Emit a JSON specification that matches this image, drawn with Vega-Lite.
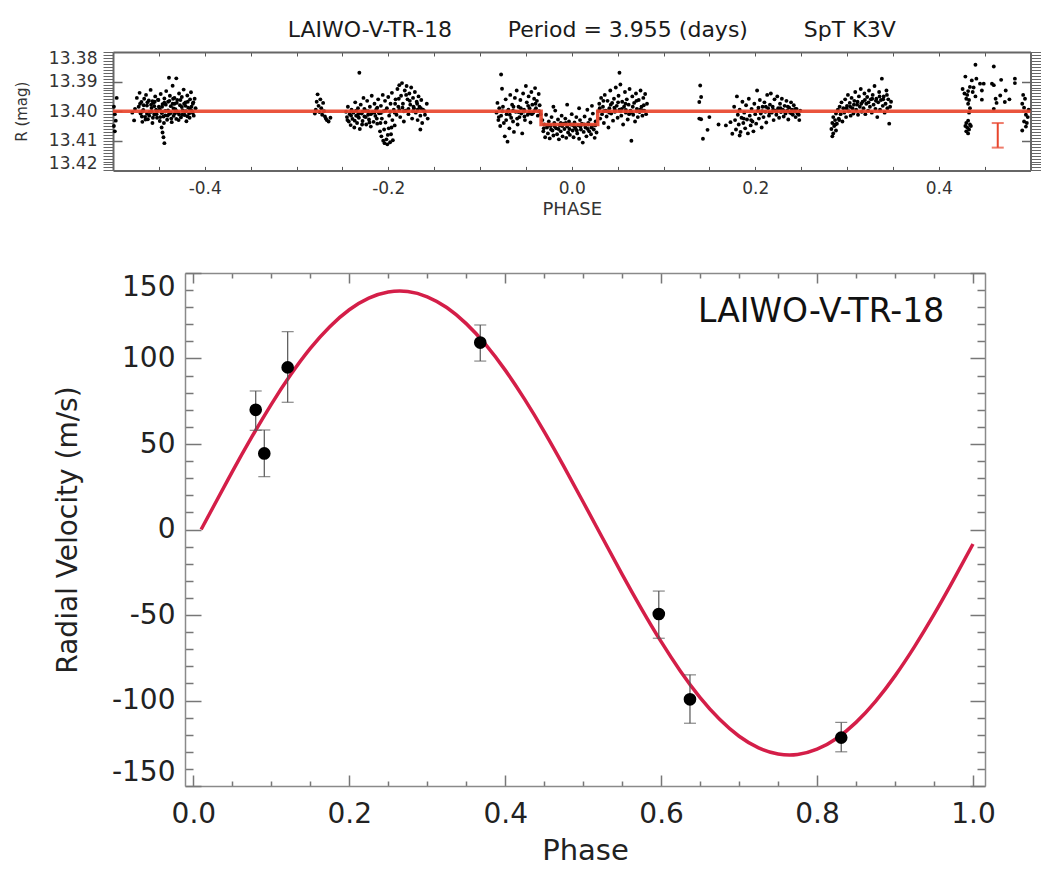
{
"$schema": "https://vega.github.io/schema/vega-lite/v6.json",
"background": "white",
"padding": {"left": 14, "top": 18, "right": 5, "bottom": 5},
"config": {"view": {"stroke": null}, "font": "DejaVu Sans", "axis": {"grid": false}},
"datasets": {
"lc": [
{"p":-0.499,"m":13.3985},{"p":-0.498,"m":13.4010},{"p":-0.497,"m":13.4032},{"p":-0.499,"m":13.4050},{"p":-0.496,"m":13.3955},{"p":-0.498,"m":13.4068},
{"p":-0.479,"m":13.4005},{"p":-0.477,"m":13.4031},{"p":-0.476,"m":13.3992},{"p":-0.474,"m":13.3955},{"p":-0.472,"m":13.3985},{"p":-0.471,"m":13.3938},{"p":-0.470,"m":13.4008},{"p":-0.469,"m":13.3969},{"p":-0.468,"m":13.4036},{"p":-0.467,"m":13.3996},{"p":-0.466,"m":13.3958},{"p":-0.465,"m":13.4019},{"p":-0.464,"m":13.3945},{"p":-0.463,"m":13.3981},{"p":-0.462,"m":13.4027},{"p":-0.461,"m":13.3964},{"p":-0.460,"m":13.4003},{"p":-0.459,"m":13.3928},{"p":-0.458,"m":13.3989},{"p":-0.457,"m":13.4040},{"p":-0.456,"m":13.3972},{"p":-0.455,"m":13.4011},{"p":-0.454,"m":13.3950},{"p":-0.453,"m":13.3995},{"p":-0.452,"m":13.4022},{"p":-0.451,"m":13.3961},{"p":-0.450,"m":13.3985},{"p":-0.449,"m":13.4033},{"p":-0.448,"m":13.3942},{"p":-0.447,"m":13.4006},{"p":-0.447,"m":13.4055},{"p":-0.446,"m":13.4072},{"p":-0.446,"m":13.3976},{"p":-0.445,"m":13.4088},{"p":-0.445,"m":13.4018},{"p":-0.444,"m":13.4108},{"p":-0.444,"m":13.3957},{"p":-0.443,"m":13.3999},{"p":-0.442,"m":13.3932},{"p":-0.441,"m":13.4029},{"p":-0.440,"m":13.3968},{"p":-0.439,"m":13.3887},{"p":-0.439,"m":13.4010},{"p":-0.438,"m":13.3948},{"p":-0.437,"m":13.3983},{"p":-0.436,"m":13.4037},{"p":-0.435,"m":13.3914},{"p":-0.435,"m":13.3975},{"p":-0.434,"m":13.4016},{"p":-0.433,"m":13.3955},{"p":-0.432,"m":13.3993},{"p":-0.431,"m":13.3889},{"p":-0.431,"m":13.4026},{"p":-0.430,"m":13.3962},{"p":-0.429,"m":13.4004},{"p":-0.428,"m":13.3940},{"p":-0.427,"m":13.3980},{"p":-0.426,"m":13.4021},{"p":-0.425,"m":13.3952},{"p":-0.424,"m":13.3997},{"p":-0.423,"m":13.3927},{"p":-0.422,"m":13.4013},{"p":-0.421,"m":13.3970},{"p":-0.420,"m":13.4034},{"p":-0.419,"m":13.3947},{"p":-0.418,"m":13.3988},{"p":-0.417,"m":13.4008},{"p":-0.416,"m":13.3960},{"p":-0.415,"m":13.3936},{"p":-0.414,"m":13.3999},{"p":-0.413,"m":13.3975},{"p":-0.412,"m":13.4015},{"p":-0.411,"m":13.3958},{"p":-0.410,"m":13.3990},
{"p":-0.468,"m":13.4001},{"p":-0.463,"m":13.4009},{"p":-0.458,"m":13.4002},{"p":-0.455,"m":13.3983},{"p":-0.452,"m":13.4000},{"p":-0.449,"m":13.3993},{"p":-0.446,"m":13.4003},{"p":-0.443,"m":13.4014},{"p":-0.440,"m":13.3997},{"p":-0.437,"m":13.4006},{"p":-0.434,"m":13.3991},{"p":-0.431,"m":13.4000},{"p":-0.428,"m":13.4011},{"p":-0.425,"m":13.3986},{"p":-0.422,"m":13.4002},{"p":-0.419,"m":13.4017},{"p":-0.416,"m":13.3994},{"p":-0.413,"m":13.4006},{"p":-0.457,"m":13.3966},{"p":-0.444,"m":13.3971},{"p":-0.433,"m":13.3975},{"p":-0.421,"m":13.3982},
{"p":-0.4705,"m":13.3975},{"p":-0.4685,"m":13.4018},{"p":-0.4665,"m":13.3980},{"p":-0.4645,"m":13.4028},{"p":-0.4625,"m":13.3970},{"p":-0.4605,"m":13.4015},{"p":-0.4585,"m":13.3978},{"p":-0.4565,"m":13.4022},{"p":-0.4545,"m":13.3968},{"p":-0.4525,"m":13.4010},{"p":-0.4505,"m":13.3962},{"p":-0.4485,"m":13.4020},{"p":-0.4465,"m":13.3985},{"p":-0.4445,"m":13.4040},{"p":-0.4425,"m":13.3978},{"p":-0.4405,"m":13.4015},{"p":-0.4385,"m":13.3965},{"p":-0.4365,"m":13.4025},{"p":-0.4345,"m":13.3958},{"p":-0.4325,"m":13.4008},{"p":-0.4305,"m":13.3972},{"p":-0.4285,"m":13.4030},{"p":-0.4265,"m":13.3962},{"p":-0.4245,"m":13.4012},{"p":-0.4225,"m":13.3975},{"p":-0.4205,"m":13.4000},{"p":-0.4185,"m":13.3968},{"p":-0.4165,"m":13.4022},{"p":-0.4145,"m":13.3985},{"p":-0.4125,"m":13.3970},
{"p":-0.280,"m":13.4008},{"p":-0.279,"m":13.3995},{"p":-0.278,"m":13.3968},{"p":-0.277,"m":13.3943},{"p":-0.276,"m":13.3982},{"p":-0.275,"m":13.4003},{"p":-0.274,"m":13.3960},{"p":-0.273,"m":13.3990},{"p":-0.272,"m":13.4012},{"p":-0.271,"m":13.3972},{"p":-0.270,"m":13.4000},{"p":-0.269,"m":13.4018},{"p":-0.268,"m":13.4025},{"p":-0.267,"m":13.4030},{"p":-0.265,"m":13.4035},{"p":-0.263,"m":13.4022},
{"p":-0.246,"m":13.4002},{"p":-0.245,"m":13.4020},{"p":-0.244,"m":13.3985},{"p":-0.243,"m":13.4035},{"p":-0.242,"m":13.4010},{"p":-0.241,"m":13.4047},{"p":-0.240,"m":13.3995},{"p":-0.239,"m":13.4026},{"p":-0.238,"m":13.4005},{"p":-0.237,"m":13.4055},{"p":-0.236,"m":13.3970},{"p":-0.235,"m":13.4015},{"p":-0.234,"m":13.4040},{"p":-0.233,"m":13.3990},{"p":-0.232,"m":13.4022},{"p":-0.2315,"m":13.3870},{"p":-0.231,"m":13.4060},{"p":-0.230,"m":13.3978},{"p":-0.229,"m":13.4008},{"p":-0.228,"m":13.4033},{"p":-0.227,"m":13.3955},{"p":-0.226,"m":13.4018},{"p":-0.225,"m":13.3998},{"p":-0.224,"m":13.4045},{"p":-0.223,"m":13.3965},{"p":-0.222,"m":13.4012},{"p":-0.221,"m":13.4028},{"p":-0.220,"m":13.3985},{"p":-0.219,"m":13.4052},{"p":-0.218,"m":13.3948},{"p":-0.217,"m":13.4003},{"p":-0.216,"m":13.4036},{"p":-0.215,"m":13.3975},{"p":-0.214,"m":13.4016},{"p":-0.213,"m":13.3993},{"p":-0.212,"m":13.4042},{"p":-0.211,"m":13.3960},{"p":-0.210,"m":13.4007},
{"p":-0.209,"m":13.4068},{"p":-0.208,"m":13.3982},{"p":-0.2075,"m":13.4085},{"p":-0.207,"m":13.4025},{"p":-0.206,"m":13.3945},{"p":-0.2055,"m":13.4100},{"p":-0.205,"m":13.4000},{"p":-0.204,"m":13.4108},{"p":-0.2035,"m":13.3965},{"p":-0.203,"m":13.4038},{"p":-0.202,"m":13.4095},{"p":-0.2015,"m":13.3990},{"p":-0.201,"m":13.4112},{"p":-0.200,"m":13.3952},{"p":-0.1995,"m":13.4058},{"p":-0.199,"m":13.4015},{"p":-0.198,"m":13.4105},{"p":-0.1975,"m":13.3975},{"p":-0.197,"m":13.4078},{"p":-0.196,"m":13.3938},{"p":-0.1955,"m":13.4030},{"p":-0.195,"m":13.4098},{"p":-0.194,"m":13.3995},{"p":-0.193,"m":13.4048},{"p":-0.192,"m":13.3960},{"p":-0.191,"m":13.4012},{"p":-0.190,"m":13.3925},
{"p":-0.189,"m":13.3985},{"p":-0.188,"m":13.3912},{"p":-0.187,"m":13.4020},{"p":-0.186,"m":13.3948},{"p":-0.185,"m":13.3905},{"p":-0.184,"m":13.3975},{"p":-0.183,"m":13.4035},{"p":-0.182,"m":13.3930},{"p":-0.181,"m":13.3998},{"p":-0.180,"m":13.3915},{"p":-0.179,"m":13.3960},{"p":-0.178,"m":13.4010},{"p":-0.177,"m":13.3940},{"p":-0.176,"m":13.3978},{"p":-0.175,"m":13.3920},{"p":-0.174,"m":13.4025},{"p":-0.173,"m":13.3955},{"p":-0.172,"m":13.3990},{"p":-0.171,"m":13.3935},{"p":-0.170,"m":13.4005},{"p":-0.169,"m":13.3968},{"p":-0.168,"m":13.4030},{"p":-0.167,"m":13.3950},{"p":-0.166,"m":13.3985},{"p":-0.165,"m":13.4015},{"p":-0.164,"m":13.3962},{"p":-0.163,"m":13.4040},{"p":-0.162,"m":13.3995},{"p":-0.160,"m":13.4012},{"p":-0.158,"m":13.3975},{"p":-0.157,"m":13.4025},{"p":-0.165,"m":13.4062},
{"p":-0.240,"m":13.4000},{"p":-0.235,"m":13.3998},{"p":-0.228,"m":13.4002},{"p":-0.222,"m":13.4000},{"p":-0.215,"m":13.4004},{"p":-0.208,"m":13.4006},{"p":-0.203,"m":13.3998},{"p":-0.198,"m":13.4002},{"p":-0.193,"m":13.4005},{"p":-0.188,"m":13.3996},{"p":-0.183,"m":13.4000},{"p":-0.178,"m":13.3992},{"p":-0.173,"m":13.4000},{"p":-0.168,"m":13.3995},{"p":-0.233,"m":13.4018},{"p":-0.226,"m":13.3992},{"p":-0.219,"m":13.4010},{"p":-0.212,"m":13.3988},
{"p":-0.2445,"m":13.4030},{"p":-0.2405,"m":13.4015},{"p":-0.2365,"m":13.4032},{"p":-0.2325,"m":13.4008},{"p":-0.2285,"m":13.4045},{"p":-0.2245,"m":13.4020},{"p":-0.2205,"m":13.4038},{"p":-0.2165,"m":13.4005},{"p":-0.2125,"m":13.4025},{"p":-0.2085,"m":13.4040},{"p":-0.2045,"m":13.4062},{"p":-0.2005,"m":13.4080},{"p":-0.1965,"m":13.4055},{"p":-0.1925,"m":13.3975},{"p":-0.1885,"m":13.3958},{"p":-0.1845,"m":13.3988},{"p":-0.1805,"m":13.3945},{"p":-0.1765,"m":13.3965},{"p":-0.1725,"m":13.3985},{"p":-0.1685,"m":13.3975},{"p":-0.1645,"m":13.3990},{"p":-0.1605,"m":13.4000},
{"p":-0.082,"m":13.4005},{"p":-0.081,"m":13.3972},{"p":-0.080,"m":13.4030},{"p":-0.079,"m":13.3990},{"p":-0.078,"m":13.4050},{"p":-0.077,"m":13.3876},{"p":-0.077,"m":13.4015},{"p":-0.076,"m":13.3924},{"p":-0.075,"m":13.3985},{"p":-0.074,"m":13.4040},{"p":-0.073,"m":13.4085},{"p":-0.072,"m":13.3960},{"p":-0.071,"m":13.4010},{"p":-0.070,"m":13.4103},{"p":-0.069,"m":13.3995},{"p":-0.068,"m":13.4058},{"p":-0.067,"m":13.3945},{"p":-0.066,"m":13.4022},{"p":-0.065,"m":13.3978},{"p":-0.064,"m":13.4035},{"p":-0.063,"m":13.4070},{"p":-0.062,"m":13.3955},{"p":-0.061,"m":13.4002},{"p":-0.060,"m":13.3930},{"p":-0.059,"m":13.4045},{"p":-0.058,"m":13.3985},{"p":-0.057,"m":13.4020},{"p":-0.056,"m":13.3962},{"p":-0.055,"m":13.4008},{"p":-0.054,"m":13.4075},{"p":-0.053,"m":13.3940},{"p":-0.052,"m":13.3995},{"p":-0.051,"m":13.4030},{"p":-0.050,"m":13.3915},{"p":-0.049,"m":13.3970},{"p":-0.048,"m":13.4012},{"p":-0.047,"m":13.3950},{"p":-0.046,"m":13.3990},{"p":-0.045,"m":13.4038},{"p":-0.044,"m":13.3935},{"p":-0.043,"m":13.3978},{"p":-0.042,"m":13.4005},{"p":-0.041,"m":13.3958},{"p":-0.040,"m":13.3922},{"p":-0.039,"m":13.3990},{"p":-0.038,"m":13.3965},{"p":-0.037,"m":13.4015},{"p":-0.036,"m":13.3942},{"p":-0.035,"m":13.3980},{"p":-0.034,"m":13.4010},{"p":-0.070,"m":13.4000},{"p":-0.064,"m":13.3998},{"p":-0.058,"m":13.4003},{"p":-0.052,"m":13.4001},{"p":-0.046,"m":13.4006},{"p":-0.040,"m":13.3996},
{"p":-0.0795,"m":13.4020},{"p":-0.0755,"m":13.4000},{"p":-0.0715,"m":13.4030},{"p":-0.0675,"m":13.4012},{"p":-0.0635,"m":13.3985},{"p":-0.0595,"m":13.4025},{"p":-0.0555,"m":13.3990},{"p":-0.0515,"m":13.4018},{"p":-0.0475,"m":13.3982},{"p":-0.0435,"m":13.4010},{"p":-0.0395,"m":13.3975},{"p":-0.0355,"m":13.4000},
{"p":-0.032,"m":13.4030},{"p":-0.031,"m":13.4068},{"p":-0.030,"m":13.4045},{"p":-0.029,"m":13.4088},{"p":-0.028,"m":13.4012},{"p":-0.027,"m":13.4055},{"p":-0.026,"m":13.4075},{"p":-0.025,"m":13.4035},{"p":-0.024,"m":13.4092},{"p":-0.023,"m":13.4050},{"p":-0.022,"m":13.4020},{"p":-0.021,"m":13.4065},{"p":-0.020,"m":13.4082},{"p":-0.019,"m":13.4040},{"p":-0.018,"m":13.3998},{"p":-0.017,"m":13.4058},{"p":-0.016,"m":13.4078},{"p":-0.015,"m":13.4028},{"p":-0.014,"m":13.4095},{"p":-0.013,"m":13.4048},{"p":-0.012,"m":13.4068},{"p":-0.011,"m":13.4015},{"p":-0.010,"m":13.4085},{"p":-0.009,"m":13.4042},{"p":-0.008,"m":13.4060},{"p":-0.007,"m":13.4025},{"p":-0.006,"m":13.4090},{"p":-0.005,"m":13.4052},{"p":-0.004,"m":13.4072},{"p":-0.003,"m":13.4035},{"p":-0.002,"m":13.4080},{"p":-0.001,"m":13.4045},{"p":0.000,"m":13.4010},{"p":0.001,"m":13.4065},{"p":0.002,"m":13.4088},{"p":0.003,"m":13.4038},{"p":0.004,"m":13.4058},{"p":0.005,"m":13.4020},{"p":0.006,"m":13.4075},{"p":0.007,"m":13.4048},{"p":0.008,"m":13.4093},{"p":0.009,"m":13.4030},{"p":0.010,"m":13.4062},{"p":0.011,"m":13.4042},{"p":0.012,"m":13.4106},{"p":0.013,"m":13.4070},{"p":0.014,"m":13.4018},{"p":0.015,"m":13.4055},{"p":0.016,"m":13.4085},{"p":0.017,"m":13.3995},{"p":0.018,"m":13.4045},{"p":0.019,"m":13.4068},{"p":0.020,"m":13.4028},{"p":0.021,"m":13.4078},{"p":0.022,"m":13.4050},{"p":0.023,"m":13.4008},{"p":0.024,"m":13.4062},{"p":0.025,"m":13.4090},{"p":0.026,"m":13.4035},{"p":0.027,"m":13.4072},{"p":-0.020,"m":13.3985},{"p":-0.005,"m":13.3978},{"p":0.008,"m":13.3990},{"p":0.022,"m":13.3982},{"p":-0.012,"m":13.4040},{"p":0.003,"m":13.4052},{"p":0.018,"m":13.4040},
{"p":-0.0305,"m":13.4058},{"p":-0.0265,"m":13.4048},{"p":-0.0225,"m":13.4062},{"p":-0.0185,"m":13.4052},{"p":-0.0145,"m":13.4060},{"p":-0.0105,"m":13.4050},{"p":-0.0065,"m":13.4040},{"p":-0.0025,"m":13.4060},{"p":0.0015,"m":13.4048},{"p":0.0055,"m":13.4065},{"p":0.0095,"m":13.4052},{"p":0.0135,"m":13.4045},{"p":0.0175,"m":13.4060},{"p":0.0215,"m":13.4055},{"p":0.0255,"m":13.4048},
{"p":0.029,"m":13.4000},{"p":0.030,"m":13.3975},{"p":0.031,"m":13.4025},{"p":0.032,"m":13.3955},{"p":0.033,"m":13.4010},{"p":0.034,"m":13.3985},{"p":0.035,"m":13.4040},{"p":0.036,"m":13.3945},{"p":0.037,"m":13.3998},{"p":0.038,"m":13.4018},{"p":0.039,"m":13.3965},{"p":0.040,"m":13.4055},{"p":0.041,"m":13.3990},{"p":0.042,"m":13.3930},{"p":0.043,"m":13.4008},{"p":0.044,"m":13.3972},{"p":0.045,"m":13.4032},{"p":0.046,"m":13.3958},{"p":0.047,"m":13.4002},{"p":0.048,"m":13.3920},{"p":0.049,"m":13.3982},{"p":0.050,"m":13.4022},{"p":0.051,"m":13.3948},{"p":0.052,"m":13.3870},{"p":0.052,"m":13.3995},{"p":0.053,"m":13.3910},{"p":0.054,"m":13.4015},{"p":0.055,"m":13.3968},{"p":0.056,"m":13.4045},{"p":0.057,"m":13.3985},{"p":0.058,"m":13.3935},{"p":0.059,"m":13.4005},{"p":0.060,"m":13.3960},{"p":0.061,"m":13.4028},{"p":0.062,"m":13.3978},{"p":0.063,"m":13.3925},{"p":0.064,"m":13.3998},{"p":0.065,"m":13.4100},{"p":0.066,"m":13.3950},{"p":0.067,"m":13.4012},{"p":0.068,"m":13.3972},{"p":0.069,"m":13.4035},{"p":0.070,"m":13.3940},{"p":0.071,"m":13.3992},{"p":0.072,"m":13.4020},{"p":0.073,"m":13.3962},{"p":0.074,"m":13.4003},{"p":0.075,"m":13.3930},{"p":0.076,"m":13.3985},{"p":0.077,"m":13.4015},{"p":0.078,"m":13.3955},{"p":0.079,"m":13.3998},{"p":0.080,"m":13.3942},{"p":0.081,"m":13.4010},{"p":0.082,"m":13.3975},{"p":0.035,"m":13.4000},{"p":0.041,"m":13.4005},{"p":0.047,"m":13.3995},{"p":0.053,"m":13.4000},{"p":0.059,"m":13.3996},{"p":0.065,"m":13.4004},{"p":0.071,"m":13.4000},{"p":0.077,"m":13.3997},
{"p":0.0305,"m":13.3990},{"p":0.0345,"m":13.3965},{"p":0.0385,"m":13.4000},{"p":0.0425,"m":13.3978},{"p":0.0465,"m":13.3988},{"p":0.0505,"m":13.3970},{"p":0.0545,"m":13.3992},{"p":0.0585,"m":13.3975},{"p":0.0625,"m":13.4010},{"p":0.0665,"m":13.3985},{"p":0.0705,"m":13.3965},{"p":0.0745,"m":13.3995},{"p":0.0785,"m":13.3980},
{"p":0.140,"m":13.3913},{"p":0.141,"m":13.3952},{"p":0.139,"m":13.3969},{"p":0.139,"m":13.4025},{"p":0.141,"m":13.4027},{"p":0.150,"m":13.4020},{"p":0.148,"m":13.4063},{"p":0.143,"m":13.4093},{"p":0.160,"m":13.4045},{"p":0.168,"m":13.4048},{"p":0.173,"m":13.4037},{"p":0.175,"m":13.4076},{"p":0.183,"m":13.4082},
{"p":0.177,"m":13.3985},{"p":0.178,"m":13.4030},{"p":0.179,"m":13.4062},{"p":0.180,"m":13.3950},{"p":0.181,"m":13.4012},{"p":0.182,"m":13.4045},{"p":0.183,"m":13.3995},{"p":0.184,"m":13.4070},{"p":0.185,"m":13.4022},{"p":0.186,"m":13.3968},{"p":0.187,"m":13.4040},{"p":0.188,"m":13.4005},{"p":0.189,"m":13.4058},{"p":0.190,"m":13.3980},{"p":0.191,"m":13.4028},{"p":0.192,"m":13.4075},{"p":0.193,"m":13.3958},{"p":0.194,"m":13.4015},{"p":0.195,"m":13.4048},{"p":0.196,"m":13.3992},{"p":0.197,"m":13.4035},{"p":0.198,"m":13.4068},{"p":0.199,"m":13.3975},{"p":0.200,"m":13.4010},{"p":0.201,"m":13.4042},{"p":0.202,"m":13.3930},{"p":0.203,"m":13.3998},{"p":0.204,"m":13.4025},{"p":0.205,"m":13.3962},{"p":0.206,"m":13.4008},{"p":0.207,"m":13.4055},{"p":0.208,"m":13.3985},{"p":0.209,"m":13.4020},{"p":0.210,"m":13.3970},{"p":0.211,"m":13.4002},{"p":0.212,"m":13.4038},{"p":0.213,"m":13.3945},{"p":0.214,"m":13.3990},{"p":0.215,"m":13.4015},{"p":0.216,"m":13.3978},{"p":0.217,"m":13.3940},{"p":0.218,"m":13.4005},{"p":0.219,"m":13.3985},{"p":0.220,"m":13.4030},{"p":0.221,"m":13.3960},{"p":0.222,"m":13.3998},{"p":0.223,"m":13.4012},{"p":0.224,"m":13.3950},{"p":0.225,"m":13.3990},{"p":0.226,"m":13.4022},{"p":0.227,"m":13.3975},{"p":0.228,"m":13.4003},{"p":0.229,"m":13.3958},{"p":0.230,"m":13.3995},{"p":0.231,"m":13.4018},{"p":0.232,"m":13.3982},{"p":0.233,"m":13.4008},{"p":0.234,"m":13.3965},{"p":0.235,"m":13.3998},{"p":0.236,"m":13.4028},{"p":0.237,"m":13.3988},{"p":0.238,"m":13.4005},{"p":0.239,"m":13.3970},{"p":0.240,"m":13.3995},{"p":0.241,"m":13.4012},{"p":0.242,"m":13.3980},{"p":0.243,"m":13.4000},{"p":0.244,"m":13.4020},{"p":0.245,"m":13.3992},{"p":0.246,"m":13.4008},{"p":0.248,"m":13.4030},{"p":0.249,"m":13.3998},
{"p":0.2035,"m":13.3988},{"p":0.2075,"m":13.4000},{"p":0.2115,"m":13.3985},{"p":0.2155,"m":13.4005},{"p":0.2195,"m":13.3995},{"p":0.2235,"m":13.4002},{"p":0.2275,"m":13.3990},{"p":0.2315,"m":13.4000},{"p":0.2355,"m":13.3985},{"p":0.2395,"m":13.4008},{"p":0.2435,"m":13.3992},{"p":0.2475,"m":13.4012},{"p":0.1875,"m":13.4025},{"p":0.1955,"m":13.4030},
{"p":0.283,"m":13.4060},{"p":0.284,"m":13.4085},{"p":0.284,"m":13.4040},{"p":0.285,"m":13.4075},{"p":0.285,"m":13.4020},{"p":0.286,"m":13.4050},{"p":0.287,"m":13.4030},{"p":0.288,"m":13.4065},{"p":0.288,"m":13.4008},{"p":0.289,"m":13.4042},{"p":0.290,"m":13.3995},{"p":0.291,"m":13.4025},{"p":0.292,"m":13.3985},{"p":0.293,"m":13.4010},{"p":0.294,"m":13.3970},{"p":0.295,"m":13.4035},{"p":0.296,"m":13.3990},{"p":0.297,"m":13.4005},{"p":0.298,"m":13.3960},{"p":0.299,"m":13.4020},{"p":0.300,"m":13.3982},{"p":0.301,"m":13.3945},{"p":0.302,"m":13.4000},{"p":0.303,"m":13.3972},{"p":0.304,"m":13.4015},{"p":0.305,"m":13.3955},{"p":0.306,"m":13.3990},{"p":0.307,"m":13.4008},{"p":0.308,"m":13.3965},{"p":0.309,"m":13.3935},{"p":0.310,"m":13.3995},{"p":0.311,"m":13.3978},{"p":0.312,"m":13.4012},{"p":0.313,"m":13.3950},{"p":0.314,"m":13.3985},{"p":0.315,"m":13.3925},{"p":0.316,"m":13.4002},{"p":0.317,"m":13.3968},{"p":0.318,"m":13.3990},{"p":0.319,"m":13.3940},{"p":0.320,"m":13.4010},{"p":0.321,"m":13.3975},{"p":0.322,"m":13.3952},{"p":0.323,"m":13.3998},{"p":0.324,"m":13.3930},{"p":0.325,"m":13.3985},{"p":0.326,"m":13.3960},{"p":0.327,"m":13.4005},{"p":0.328,"m":13.3945},{"p":0.329,"m":13.3978},{"p":0.330,"m":13.3915},{"p":0.331,"m":13.3992},{"p":0.332,"m":13.3958},{"p":0.333,"m":13.4020},{"p":0.334,"m":13.3970},{"p":0.335,"m":13.3935},{"p":0.336,"m":13.3995},{"p":0.337,"m":13.3962},{"p":0.338,"m":13.3890},{"p":0.339,"m":13.3982},{"p":0.340,"m":13.3950},{"p":0.341,"m":13.4005},{"p":0.342,"m":13.3975},{"p":0.343,"m":13.3930},{"p":0.344,"m":13.3990},{"p":0.345,"m":13.3960},{"p":0.346,"m":13.4042},{"p":0.347,"m":13.3985},{"p":0.348,"m":13.3968},
{"p":0.2995,"m":13.3990},{"p":0.3035,"m":13.3985},{"p":0.3075,"m":13.3978},{"p":0.3115,"m":13.3968},{"p":0.3155,"m":13.3975},{"p":0.3195,"m":13.3962},{"p":0.3235,"m":13.3970},{"p":0.3275,"m":13.3958},{"p":0.3315,"m":13.3965},{"p":0.3355,"m":13.3950},{"p":0.3395,"m":13.3960},{"p":0.3435,"m":13.3945},{"p":0.2875,"m":13.4045},{"p":0.2915,"m":13.4030},
{"p":0.440,"m":13.3843},{"p":0.429,"m":13.3883},{"p":0.436,"m":13.3896},{"p":0.441,"m":13.3890},{"p":0.445,"m":13.3907},{"p":0.434,"m":13.3918},{"p":0.432,"m":13.3932},{"p":0.428,"m":13.3940},{"p":0.431,"m":13.3945},{"p":0.437,"m":13.3935},{"p":0.440,"m":13.3950},{"p":0.430,"m":13.3958},{"p":0.426,"m":13.3925},{"p":0.433,"m":13.3962},{"p":0.438,"m":13.3920},{"p":0.432,"m":13.3975},{"p":0.434,"m":13.3990},{"p":0.433,"m":13.4005},{"p":0.432,"m":13.4032},{"p":0.430,"m":13.4040},{"p":0.434,"m":13.4045},{"p":0.431,"m":13.4055},{"p":0.433,"m":13.4062},{"p":0.430,"m":13.4068},{"p":0.432,"m":13.4075},{"p":0.435,"m":13.4050},{"p":0.429,"m":13.4050},
{"p":0.460,"m":13.3849},{"p":0.449,"m":13.3907},{"p":0.458,"m":13.3907},{"p":0.447,"m":13.3930},{"p":0.460,"m":13.3912},{"p":0.468,"m":13.3894},{"p":0.483,"m":13.3890},{"p":0.483,"m":13.3905},{"p":0.473,"m":13.3930},{"p":0.467,"m":13.3947},{"p":0.462,"m":13.3958},{"p":0.463,"m":13.3972},{"p":0.472,"m":13.3969},{"p":0.447,"m":13.3961},{"p":0.460,"m":13.3992},{"p":0.477,"m":13.3960},
{"p":0.492,"m":13.3945},{"p":0.494,"m":13.3958},{"p":0.491,"m":13.3975},{"p":0.493,"m":13.3988},{"p":0.495,"m":13.4012},{"p":0.497,"m":13.4020},{"p":0.493,"m":13.4035},{"p":0.495,"m":13.4052},{"p":0.491,"m":13.4065},{"p":0.498,"m":13.3995},{"p":0.496,"m":13.4040}
],
"model": [
{"p":-0.5,"m":13.4,"o":1},{"p":-0.0334,"m":13.4,"o":2},{"p":-0.0334,"m":13.4045,"o":3},{"p":0.0283,"m":13.4045,"o":4},{"p":0.0283,"m":13.4,"o":5},{"p":0.5,"m":13.4,"o":6}
],
"lcerr": [{"p":0.4643,"lo":13.404,"hi":13.4123}],
"rv": [
{"phase":0.080,"rv":70.0,"lo":58.0,"hi":81.0},
{"phase":0.091,"rv":44.5,"lo":30.9,"hi":58.2},
{"phase":0.121,"rv":94.8,"lo":74.4,"hi":115.7},
{"phase":0.368,"rv":109.3,"lo":98.5,"hi":119.6},
{"phase":0.597,"rv":-49.4,"lo":-63.6,"hi":-36.0},
{"phase":0.637,"rv":-99.3,"lo":-113.3,"hi":-85.0},
{"phase":0.831,"rv":-121.7,"lo":-130.0,"hi":-112.8}
],
"curve": [
{"phase":0.01,"rv":0.0},{"phase":0.025,"rv":12.7},{"phase":0.05,"rv":33.8},{"phase":0.075,"rv":54.1},{"phase":0.1,"rv":73.2},{"phase":0.125,"rv":90.6},{"phase":0.15,"rv":105.9},{"phase":0.175,"rv":118.6},{"phase":0.2,"rv":128.5},{"phase":0.225,"rv":135.3},{"phase":0.25,"rv":138.9},{"phase":0.275,"rv":139.2},{"phase":0.3,"rv":136.1},{"phase":0.325,"rv":129.8},{"phase":0.35,"rv":120.4},{"phase":0.375,"rv":108.1},{"phase":0.4,"rv":93.2},{"phase":0.425,"rv":76.1},{"phase":0.45,"rv":57.3},{"phase":0.475,"rv":37.1},{"phase":0.5,"rv":16.1},{"phase":0.525,"rv":-5.1},{"phase":0.55,"rv":-26.2},{"phase":0.575,"rv":-46.5},{"phase":0.6,"rv":-65.6},{"phase":0.625,"rv":-83.0},{"phase":0.65,"rv":-98.3},{"phase":0.675,"rv":-111.0},{"phase":0.7,"rv":-120.9},{"phase":0.725,"rv":-127.7},{"phase":0.75,"rv":-131.3},{"phase":0.775,"rv":-131.6},{"phase":0.8,"rv":-128.5},{"phase":0.825,"rv":-122.2},{"phase":0.85,"rv":-112.8},{"phase":0.875,"rv":-100.5},{"phase":0.9,"rv":-85.6},{"phase":0.925,"rv":-68.5},{"phase":0.95,"rv":-49.7},{"phase":0.975,"rv":-29.5},{"phase":1.0,"rv":-8.5}
]
},
"spacing": 102,
"bounds": "flush",
"vconcat": [
{
"width": 917.5,
"height": 118.4,
"title": {"text": "LAIWO-V-TR-18\u00a0\u00a0\u00a0\u00a0\u00a0\u00a0\u00a0\u00a0Period = 3.955 (days)\u00a0\u00a0\u00a0\u00a0\u00a0\u00a0\u00a0\u00a0SpT K3V", "anchor": "middle", "dx": 20, "fontSize": 22, "font": "DejaVu Sans", "fontWeight": "normal", "color": "#1a1a1a", "offset": 4},
"resolve": {"axis": {"x": "independent", "y": "independent"}},
"layer": [
{
"data": {"name": "lc"},
"mark": {"type": "circle", "size": 15, "color": "black", "opacity": 1},
"encoding": {
"x": {"field": "p", "type": "quantitative", "scale": {"domain": [-0.5, 0.5], "nice": false, "zero": false},
"axis": {"orient": "bottom", "values": [-0.5,-0.45,-0.4,-0.35,-0.3,-0.25,-0.2,-0.15,-0.1,-0.05,0,0.05,0.1,0.15,0.2,0.25,0.3,0.35,0.4,0.45,0.5], "tickSize": -4, "tickColor": "#555", "tickWidth": 1, "domain": true, "domainColor": "#666", "domainWidth": 2, "labelExpr": "(abs(datum.value*5-round(datum.value*5))<0.001 && abs(datum.value)<0.45) ? replace(format(datum.value,'.1f'),'\u2212','-') : ''", "labelFontSize": 17, "labelColor": "#333", "labelPadding": 14, "labelOverlap": false, "labelFlush": false, "title": "PHASE", "titleFontSize": 18, "titleFontWeight": "normal", "titleColor": "#333", "titlePadding": 4}},
"y": {"field": "m", "type": "quantitative", "scale": {"domain": [13.38, 13.42], "reverse": true, "nice": false, "zero": false},
"axis": {"orient": "left", "values": [13.380,13.381,13.382,13.383,13.384,13.385,13.386,13.387,13.388,13.389,13.390,13.391,13.392,13.393,13.394,13.395,13.396,13.397,13.398,13.399,13.400,13.401,13.402,13.403,13.404,13.405,13.406,13.407,13.408,13.409,13.410,13.411,13.412,13.413,13.414,13.415,13.416,13.417,13.418,13.419,13.420], "tickSize": 10, "tickColor": "#666", "tickWidth": 1, "domain": true, "domainColor": "#666", "domainWidth": 2, "labelExpr": "abs(datum.value*100-round(datum.value*100))<0.01 ? format(datum.value,'.2f') : ''", "labelFontSize": 17, "labelColor": "#333", "labelPadding": 6, "labelOverlap": false, "labelFlush": true, "labelFlushOffset": 2, "title": "R (mag)", "titleFontSize": 15, "titleFontWeight": "normal", "titleColor": "#333", "titlePadding": 19}}
}
},
{
"data": {"name": "model"},
"mark": {"type": "line", "color": "#e8452c", "strokeWidth": 3.5, "opacity": 0.92},
"encoding": {
"x": {"field": "p", "type": "quantitative", "scale": {"domain": [-0.5, 0.5], "nice": false, "zero": false},
"axis": {"orient": "top", "values": [-0.5,-0.45,-0.4,-0.35,-0.3,-0.25,-0.2,-0.15,-0.1,-0.05,0,0.05,0.1,0.15,0.2,0.25,0.3,0.35,0.4,0.45,0.5], "tickSize": -4, "tickColor": "#555", "tickWidth": 1, "domain": true, "domainColor": "#666", "domainWidth": 2, "labels": false, "title": null}},
"y": {"field": "m", "type": "quantitative", "scale": {"domain": [13.38, 13.42], "reverse": true, "nice": false, "zero": false},
"axis": {"orient": "right", "values": [13.380,13.381,13.382,13.383,13.384,13.385,13.386,13.387,13.388,13.389,13.390,13.391,13.392,13.393,13.394,13.395,13.396,13.397,13.398,13.399,13.400,13.401,13.402,13.403,13.404,13.405,13.406,13.407,13.408,13.409,13.410,13.411,13.412,13.413,13.414,13.415,13.416,13.417,13.418,13.419,13.420], "tickSize": 10, "tickColor": "#666", "tickWidth": 1, "domain": true, "domainColor": "#666", "domainWidth": 2, "labels": false, "title": null}},
"order": {"field": "o", "type": "quantitative"}
}
},
{
"data": {"name": "lcerr"},
"mark": {"type": "rule", "color": "#e8452c", "strokeWidth": 2},
"encoding": {
"x": {"field": "p", "type": "quantitative", "axis": null},
"y": {"field": "lo", "type": "quantitative", "axis": {"orient": "left", "values": [13.39, 13.40, 13.41], "tickSize": -9, "tickColor": "#666", "tickWidth": 1.5, "domain": false, "labels": false, "title": null}},
"y2": {"field": "hi"}
}
},
{
"data": {"name": "lcerr"},
"mark": {"type": "tick", "color": "#e8452c", "orient": "horizontal", "size": 12, "thickness": 2},
"encoding": {
"x": {"field": "p", "type": "quantitative", "axis": null},
"y": {"field": "lo", "type": "quantitative", "axis": {"orient": "right", "values": [13.39, 13.40, 13.41], "tickSize": -9, "tickColor": "#666", "tickWidth": 1.5, "domain": false, "labels": false, "title": null}}
}
},
{
"data": {"name": "lcerr"},
"mark": {"type": "tick", "color": "#e8452c", "orient": "horizontal", "size": 12, "thickness": 2},
"encoding": {
"x": {"field": "p", "type": "quantitative", "axis": null},
"y": {"field": "hi", "type": "quantitative", "axis": null}
}
}
]
},
{
"hconcat": [
{
"width": 71.4,
"height": 10,
"data": {"values": [{"a": 1}]},
"mark": {"type": "point", "opacity": 0},
"encoding": {}
},
{
"width": 800,
"height": 513,
"resolve": {"axis": {"x": "independent", "y": "independent"}},
"layer": [
{
"data": {"name": "curve"},
"mark": {"type": "line", "color": "#d41e48", "strokeWidth": 3.5, "interpolate": "natural"},
"encoding": {
"x": {"field": "phase", "type": "quantitative", "scale": {"domain": [-0.0107, 1.0154], "nice": false, "zero": false},
"axis": {"orient": "bottom", "values": [0,0.05,0.1,0.15,0.2,0.25,0.3,0.35,0.4,0.45,0.5,0.55,0.6,0.65,0.7,0.75,0.8,0.85,0.9,0.95,1.0], "tickSize": {"condition": {"test": "abs(datum.value*5-round(datum.value*5))<0.001", "value": -11}, "value": -5}, "tickColor": "#777", "tickWidth": 1.5, "domain": true, "domainColor": "#8a8a8a", "domainWidth": 1.5, "labelExpr": "abs(datum.value*5-round(datum.value*5))<0.001 ? format(datum.value,'.1f') : ''", "labelFontSize": 28, "labelColor": "#222", "labelPadding": 25, "labelOverlap": false, "labelFlush": false, "title": "Phase", "titleFontSize": 29, "titleFontWeight": "normal", "titleColor": "#222", "titlePadding": 2}},
"y": {"field": "rv", "type": "quantitative", "scale": {"domain": [-150, 150], "nice": false, "zero": false},
"axis": {"orient": "left", "values": [-150,-140,-130,-120,-110,-100,-90,-80,-70,-60,-50,-40,-30,-20,-10,0,10,20,30,40,50,60,70,80,90,100,110,120,130,140,150], "tickSize": {"condition": {"test": "datum.value % 50 == 0", "value": -16}, "value": -8}, "tickColor": "#777", "tickWidth": 1.5, "domain": true, "domainColor": "#8a8a8a", "domainWidth": 1.5, "labelExpr": "datum.value % 50 == 0 ? replace(format(datum.value,'d'),'\u2212','-') : ''", "labelFontSize": 28, "labelColor": "#222", "labelPadding": 26, "labelOverlap": false, "labelFlush": true, "title": "Radial Velocity (m/s)", "titleFontSize": 28, "titleFontWeight": "normal", "titleColor": "#222", "titlePadding": 29}}
}
},
{
"data": {"name": "rv"},
"mark": {"type": "rule", "color": "#555", "strokeWidth": 1.2},
"encoding": {
"x": {"field": "phase", "type": "quantitative",
"axis": {"orient": "top", "values": [0,0.05,0.1,0.15,0.2,0.25,0.3,0.35,0.4,0.45,0.5,0.55,0.6,0.65,0.7,0.75,0.8,0.85,0.9,0.95,1.0], "tickSize": {"condition": {"test": "abs(datum.value*5-round(datum.value*5))<0.001", "value": -10}, "value": -5}, "tickColor": "#777", "tickWidth": 1.5, "domain": true, "domainColor": "#8a8a8a", "domainWidth": 1.5, "labels": false, "title": null}},
"y": {"field": "lo", "type": "quantitative",
"axis": {"orient": "right", "values": [-150,-140,-130,-120,-110,-100,-90,-80,-70,-60,-50,-40,-30,-20,-10,0,10,20,30,40,50,60,70,80,90,100,110,120,130,140,150], "tickSize": {"condition": {"test": "datum.value % 50 == 0", "value": -15}, "value": -8}, "tickColor": "#777", "tickWidth": 1.5, "domain": true, "domainColor": "#8a8a8a", "domainWidth": 1.5, "labels": false, "title": null}},
"y2": {"field": "hi"}
}
},
{
"data": {"name": "rv"},
"mark": {"type": "tick", "color": "#555", "orient": "horizontal", "size": 12, "thickness": 1.2},
"encoding": {
"x": {"field": "phase", "type": "quantitative", "axis": null},
"y": {"field": "lo", "type": "quantitative", "axis": null}
}
},
{
"data": {"name": "rv"},
"mark": {"type": "tick", "color": "#555", "orient": "horizontal", "size": 12, "thickness": 1.2},
"encoding": {
"x": {"field": "phase", "type": "quantitative", "axis": null},
"y": {"field": "hi", "type": "quantitative", "axis": null}
}
},
{
"data": {"name": "rv"},
"mark": {"type": "circle", "size": 160, "color": "black", "opacity": 1},
"encoding": {
"x": {"field": "phase", "type": "quantitative", "axis": null},
"y": {"field": "rv", "type": "quantitative", "axis": null}
}
},
{
"data": {"values": [{"label": "LAIWO-V-TR-18"}]},
"mark": {"type": "text", "align": "right", "baseline": "alphabetic", "fontSize": 33, "font": "DejaVu Sans", "color": "#111"},
"encoding": {
"x": {"datum": 0.963, "type": "quantitative", "axis": null},
"y": {"datum": 121.5, "type": "quantitative", "axis": null},
"text": {"field": "label"}
}
}
]
}
],
"spacing": 0,
"bounds": "flush"
}
]
}
